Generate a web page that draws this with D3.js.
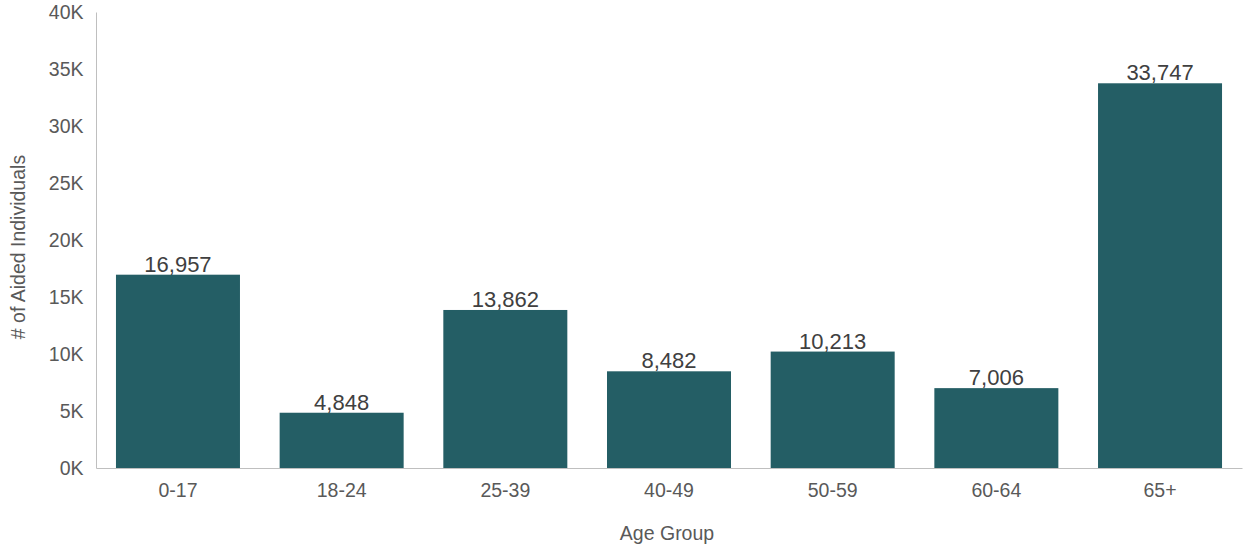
<!DOCTYPE html>
<html><head><meta charset="utf-8">
<script src="https://cdn.jsdelivr.net/npm/d3@7"></script>
<style>body{margin:0;background:#fff}svg{display:block;font-family:"Liberation Sans",Arial,sans-serif}</style>
</head><body><svg id="c" width="1244" height="548"></svg>
<script>
const categories = ["0-17","18-24","25-39","40-49","50-59","60-64","65+"];
const values = [16957,4848,13862,8482,10213,7006,33747];
const yTicks = [0,5000,10000,15000,20000,25000,30000,35000,40000];

const svg = d3.select("#c");
const m = {l:96, r:2, t:12, b:80};
const W = 1244, H = 548;
const x = d3.scaleBand().domain(categories).range([m.l, W-m.r]).paddingInner(0.2424).paddingOuter(0.122);
const y = d3.scaleLinear().domain([0,40000]).range([H-m.b, m.t]);

const grey = "#595959";
const axisFont = "19.5px";
// bars
svg.selectAll("rect.bar").data(values).join("rect").attr("class","bar")
  .attr("x",(d,i)=>x(categories[i])).attr("width",x.bandwidth())
  .attr("y",d=>y(d)).attr("height",d=>y(0)-y(d)).attr("fill","#245e65");

// y axis
const ya = svg.append("g").attr("transform",`translate(${m.l},0)`)
  .call(d3.axisLeft(y).tickValues(yTicks).tickFormat(d=>(d/1000)+"K").tickSize(0).tickPadding(12.5));
ya.select(".domain").attr("stroke","#bfbfbf").attr("stroke-width",1);
ya.selectAll("text").attr("fill",grey).style("font-size",axisFont).style("font-family","Liberation Sans, Arial, sans-serif");

// x axis
const xa = svg.append("g").attr("transform",`translate(0,${y(0)})`)
  .call(d3.axisBottom(x).tickSize(0).tickPadding(15));
xa.select(".domain").attr("stroke","#bfbfbf").attr("stroke-width",1);
xa.selectAll("text").attr("fill",grey).style("font-size",axisFont).style("font-family","Liberation Sans, Arial, sans-serif");

// value labels
svg.selectAll("text.val").data(values).join("text").attr("class","val")
  .attr("x",(d,i)=>x(categories[i])+x.bandwidth()/2).attr("y",d=>y(d)-3)
  .attr("text-anchor","middle").attr("fill","#404040").style("font-size","22px")
  .text(d=>d3.format(",")(d));

// axis titles
svg.append("text").attr("x",667).attr("y",540).attr("text-anchor","middle")
  .attr("fill",grey).style("font-size",axisFont).text("Age Group");
svg.append("text").attr("transform",`translate(25,247) rotate(-90)`).attr("text-anchor","middle")
  .attr("fill",grey).style("font-size",axisFont).text("# of Aided Individuals");
</script></body></html>
